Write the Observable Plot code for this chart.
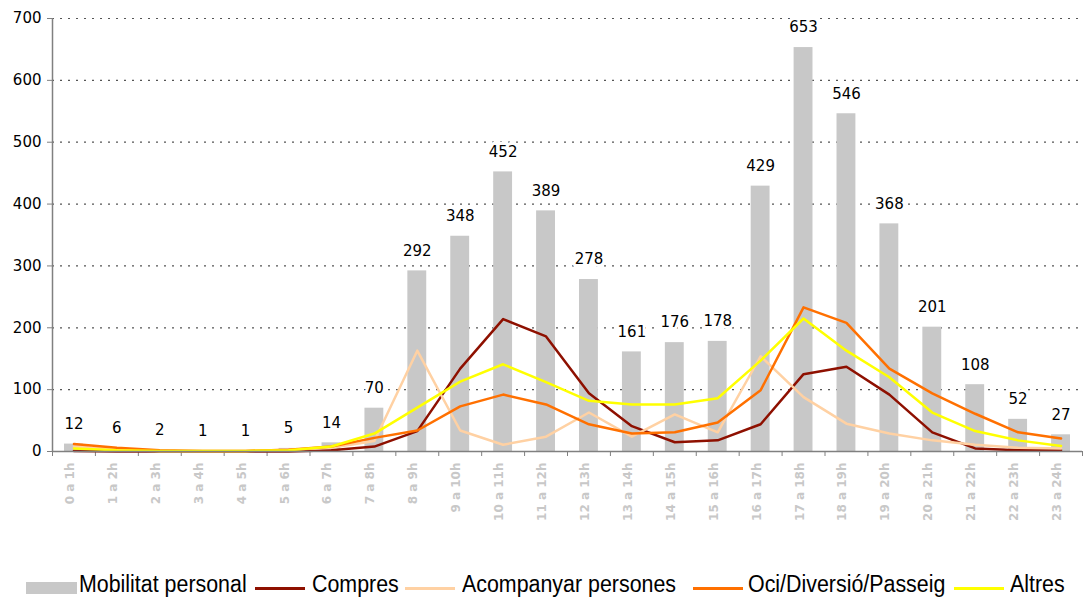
<!DOCTYPE html>
<html><head><meta charset="utf-8">
<script src="https://cdn.jsdelivr.net/npm/d3@7"></script>
<script src="https://cdn.jsdelivr.net/npm/@observablehq/plot@0.6"></script>
<style>
body{margin:0;background:#fff;}
#chart svg{display:block;}
[aria-label^="y-axis"] line,[aria-label^="y-axis"] path,[aria-label^="x-axis"] line,[aria-label^="x-axis"] path{stroke:#808080;}
#legend{position:relative;width:1088px;height:37px;font-family:"Liberation Sans",Arial,sans-serif;font-size:23px;color:#000;white-space:nowrap;overflow:hidden;}
#legend .box{position:absolute;top:22px;width:51px;height:12px;}
#legend .ln{position:absolute;top:27px;width:50px;height:3px;}
#legend .txt{position:absolute;top:11px;line-height:normal;transform:scaleX(0.93);transform-origin:0 0;}
</style></head><body>
<div id="chart"></div>
<div id="legend"></div>
<script>
const categories = ["0 a 1h","1 a 2h","2 a 3h","3 a 4h","4 a 5h","5 a 6h","6 a 7h","7 a 8h","8 a 9h","9 a 10h","10 a 11h","11 a 12h","12 a 13h","13 a 14h","14 a 15h","15 a 16h","16 a 17h","17 a 18h","18 a 19h","19 a 20h","20 a 21h","21 a 22h","22 a 23h","23 a 24h"];
const mobilitat = [12,6,2,1,1,5,14,70,292,348,452,389,278,161,176,178,429,653,546,368,201,108,52,27];
const compres = [1,0,0,0,0,0,2,8,33,134,214,186,94,41,15,18,44,125,137,92,31,5,2,2];
const acompanyar = [8,4,1,1,1,3,6,17,163,34,11,24,63,24,60,31,154,88,45,29,18,11,6,5];
const oci = [12,6,2,1,1,3,8,22,34,73,92,76,44,29,31,47,99,233,208,134,94,61,31,21];
const altres = [5,2,1,1,1,2,8,29,71,113,141,112,82,76,76,86,147,215,163,120,63,33,18,9];
const seriesNames = ["Compres","Acompanyar persones","Oci/Diversió/Passeig","Altres"];
const seriesColors = ["#8e1000","#ffd1a3","#ff7000","#ffff00"];
const barName = "Mobilitat personal";
const barColor = "#c8c8c8";
const yTicks = [0,100,200,300,400,500,600,700];

const bars = categories.map((c,i)=>({i, c, v: mobilitat[i]}));
const seriesValues = [compres, acompanyar, oci, altres];
const lineData = seriesNames.flatMap((n,k)=>seriesValues[k].map((v,i)=>({i, v, name:n})));
const bounds = d3.range(25).map(k=>k-0.5);

const chart = Plot.plot({
  width:1088, height:560,
  marginLeft:52, marginRight:6, marginTop:18, marginBottom:109,
  style:{fontFamily:"'DejaVu Sans', Verdana, sans-serif", fontSize:"15px", color:"#000", background:"#fff", overflow:"visible"},
  x:{domain:[-0.5,23.5], ticks:bounds, tickFormat:()=>"", tickSize:5, label:null},
  y:{domain:[0,700], ticks:yTicks, tickSize:5, tickPadding:6, label:null},
  color:{domain:seriesNames, range:seriesColors},
  marks:[
    Plot.ruleY(yTicks.slice(1), {stroke:"#555", strokeDasharray:"2,6", strokeWidth:1.2}),
    Plot.rectY(bars, {x1:d=>d.i-0.22, x2:d=>d.i+0.22, y:"v", fill:barColor}),
    Plot.text(bars, {x:"i", y:"v", text:d=>String(d.v), dy:-20, fill:"#000", stroke:"#fff", strokeWidth:6, paintOrder:"stroke", fontSize:15}),
    Plot.line(lineData, {x:"i", y:"v", z:"name", stroke:"name", strokeWidth:2.5}),
    Plot.ruleY([0], {stroke:"#808080", strokeWidth:1.5}),
    Plot.ruleX([-0.5], {y1:0, y2:700, stroke:"#808080", strokeWidth:1.5}),
    Plot.text(bars, {x:"i", frameAnchor:"bottom", text:"c", rotate:-90, textAnchor:"end", dy:11, fill:"#c8c8c8", fontSize:12, fontWeight:"bold"})
  ]
});
document.getElementById("chart").appendChild(chart);

const legend = document.getElementById("legend");
const items = [{name:barName, color:barColor, box:true}].concat(seriesNames.map((n,k)=>({name:n, color:seriesColors[k]})));
const swatchLeft = [26,255,405,693,954];
const textLeft = [79,312,462,748,1010];
items.forEach((it,k)=>{
  const s = document.createElement("div"); s.className = it.box ? "box" : "ln";
  s.style.background = it.color; s.style.left = swatchLeft[k] + "px";
  const t = document.createElement("span"); t.className = "txt"; t.textContent = it.name;
  t.style.left = textLeft[k] + "px";
  legend.appendChild(s); legend.appendChild(t);
});
</script>
</body></html>
